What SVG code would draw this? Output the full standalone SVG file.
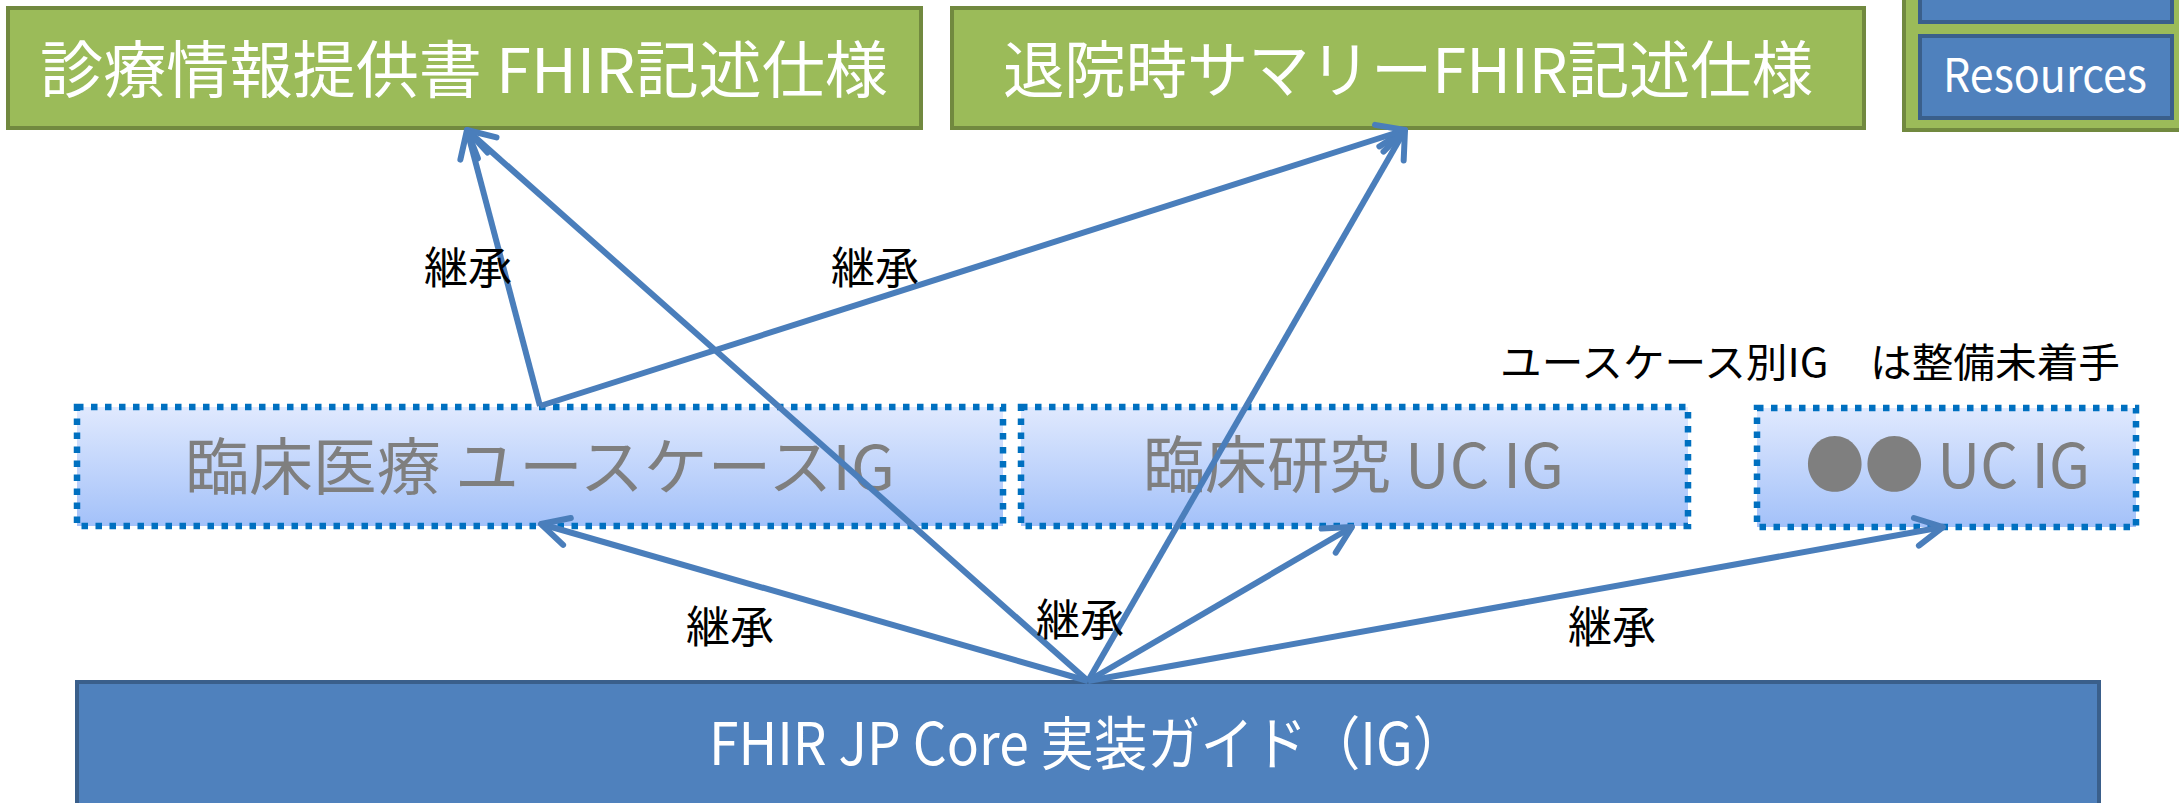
<svg xmlns="http://www.w3.org/2000/svg" width="2179" height="803" viewBox="0 0 2179 803">
  <style>
    .spec { fill: #9BBB59; stroke: #71893F; stroke-width: 4; }
    .blue { fill: #4F81BD; stroke: #3A5F8B; stroke-width: 4; }
    .uc { fill: url(#ucFill); stroke: #0070C0; stroke-width: 6.5; stroke-dasharray: 6.5 7.5; }
    .t { font-family: "Noto Sans CJK JP", "Noto Sans", sans-serif; }
    .white { fill: #FFFFFF; }
    .gray { fill: #7F7F7F; }
    .black { fill: #000000; }
    .conn { fill: none; stroke: #4A7EBB; stroke-width: 6; marker-end: url(#head); }
  </style>
  <defs>
    <linearGradient id="ucFill" x1="0" y1="0" x2="0" y2="1">
      <stop offset="0" stop-color="#E0E9FE"/>
      <stop offset="1" stop-color="#A3C1F9"/>
    </linearGradient>
    <marker id="head" markerUnits="userSpaceOnUse" markerWidth="80" markerHeight="80" viewBox="-40 -40 80 80" refX="0" refY="0" orient="auto" overflow="visible">
      <path d="M -27 -14 L 0 0 L -27 14" fill="none" stroke="#4A7EBB" stroke-width="6" stroke-linecap="round" stroke-linejoin="round"/>
    </marker>
  </defs>

  <rect width="2179" height="803" fill="#FFFFFF"/>

  <!-- use-case specifications -->
  <g id="spec-referral">
    <rect class="spec" x="8" y="8" width="913" height="120"/>
    <text class="t white" x="40" y="93" font-size="62" textLength="848" lengthAdjust="spacingAndGlyphs">診療情報提供書 FHIR記述仕様</text>
  </g>
  <g id="spec-discharge">
    <rect class="spec" x="952" y="8" width="912" height="120"/>
    <text class="t white" x="1003" y="93" font-size="62" textLength="810" lengthAdjust="spacingAndGlyphs">退院時サマリーFHIR記述仕様</text>
  </g>

  <!-- base specification panel (partly outside the frame) -->
  <g id="base-panel">
    <rect class="spec" x="1904" y="-20" width="300" height="150"/>
    <rect class="blue" x="1920" y="-30" width="252" height="52"/>
    <rect class="blue" x="1920" y="36" width="252" height="82"/>
    <text class="t white" x="1943" y="92" font-size="46" textLength="204" lengthAdjust="spacingAndGlyphs">Resources</text>
  </g>

  <!-- use-case implementation guides -->
  <g id="note">
    <text class="t black" x="1500" y="377" font-size="40" textLength="620" lengthAdjust="spacingAndGlyphs">ユースケース別IG　は整備未着手</text>
  </g>
  <g id="uc-clinical">
    <rect class="uc" x="77" y="407" width="926" height="119"/>
    <text class="t gray" x="185" y="490" font-size="62" textLength="710" lengthAdjust="spacingAndGlyphs">臨床医療 ユースケースIG</text>
  </g>
  <g id="uc-research">
    <rect class="uc" x="1021" y="407" width="667" height="119"/>
    <text class="t gray" x="1143" y="488" font-size="62" textLength="421" lengthAdjust="spacingAndGlyphs">臨床研究 UC IG</text>
  </g>
  <g id="uc-other">
    <rect class="uc" x="1757" y="408" width="379" height="119"/>
    <text class="t gray" x="1805" y="488" font-size="62" textLength="285" lengthAdjust="spacingAndGlyphs">●● UC IG</text>
  </g>

  <!-- core implementation guide -->
  <g id="jp-core">
    <rect class="blue" x="77" y="682" width="2022" height="150"/>
    <text class="t white" x="709" y="765" font-size="58" textLength="757" lengthAdjust="spacingAndGlyphs">FHIR JP Core 実装ガイド（IG）</text>
  </g>

  <!-- inheritance connectors -->
  <g id="connectors">
    <line class="conn" x1="1088" y1="681" x2="541" y2="524"/>
    <line class="conn" x1="1088" y1="681" x2="467" y2="130"/>
    <line class="conn" x1="1088" y1="681" x2="1405" y2="130"/>
    <line class="conn" x1="1088" y1="681" x2="1352" y2="527"/>
    <line class="conn" x1="1088" y1="681" x2="1943" y2="527"/>
    <line class="conn" x1="540" y1="406" x2="467" y2="130"/>
    <line class="conn" x1="540" y1="406" x2="1405" y2="130"/>
  </g>

  <g id="labels" class="t black" font-size="44" text-anchor="middle">
    <text x="468" y="284">継承</text>
    <text x="875" y="284">継承</text>
    <text x="730" y="643">継承</text>
    <text x="1080" y="636">継承</text>
    <text x="1612" y="643">継承</text>
  </g>
</svg>
